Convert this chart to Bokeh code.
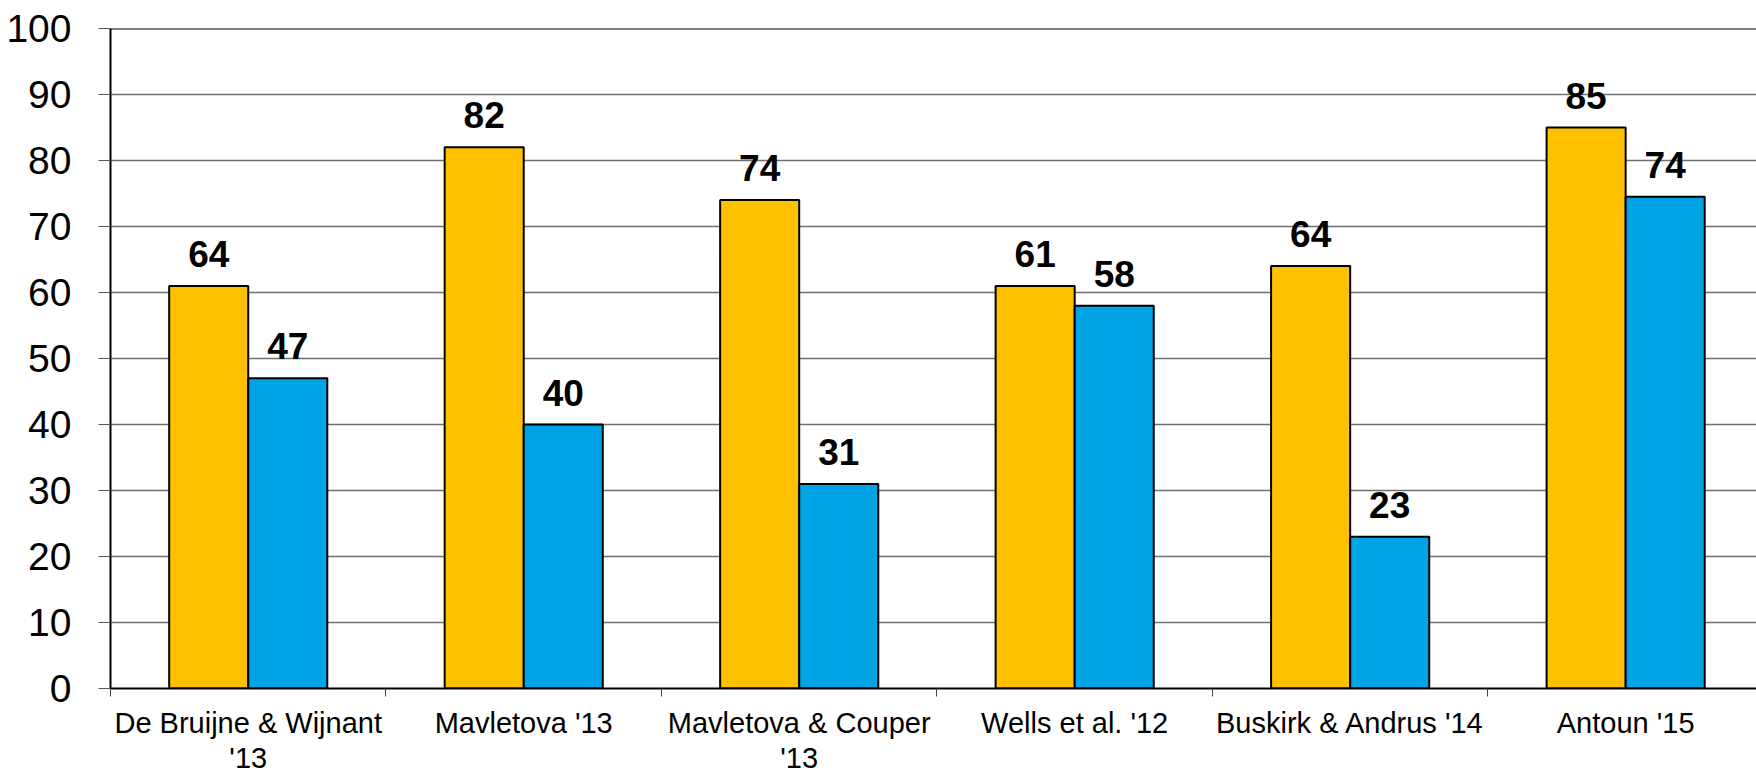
from bokeh.plotting import figure
from bokeh.models import ColumnDataSource, FixedTicker, Range1d, Span
from bokeh.core.properties import value
from bokeh.embed import file_html
from bokeh.resources import INLINE

categories = ["De Bruijne & Wijnant\n'13", "Mavletova '13", "Mavletova & Couper\n'13",
              "Wells et al. '12", "Buskirk & Andrus '14", "Antoun '15"]
orange_vals = [61, 82, 74, 61, 64, 85]
blue_vals = [47, 40, 31, 58, 23, 74.5]
orange_labels = ["64", "82", "74", "61", "64", "85"]
blue_labels = ["47", "40", "31", "58", "23", "74"]
y_ticks = [0, 10, 20, 30, 40, 50, 60, 70, 80, 90, 100]

ORANGE = "#FFC000"
BLUE = "#00A3E4"
FONT = "Liberation Sans"

n = len(categories)
bw = 0.287
centers = [i + 0.5 for i in range(n)]
ox = [c - bw / 2 for c in centers]
bx = [c + bw / 2 for c in centers]

p = figure(frame_width=1646, frame_height=660, output_backend="svg", toolbar_location=None,
           x_range=Range1d(0, 5.975), y_range=Range1d(0, 100),
           min_border_left=110, min_border_top=28, min_border_bottom=0, min_border_right=0)
p.outline_line_color = None
p.background_fill_color = "white"
p.border_fill_color = "white"

src_o = ColumnDataSource(dict(x=ox, top=orange_vals, lab=orange_labels))
src_b = ColumnDataSource(dict(x=bx, top=blue_vals, lab=blue_labels))

p.vbar(x="x", top="top", bottom=0, width=bw, source=src_o, fill_color=ORANGE,
       line_color="black", line_width=2)
p.vbar(x="x", top="top", bottom=0, width=bw, source=src_b, fill_color=BLUE,
       line_color="black", line_width=2)

for s in (src_o, src_b):
    p.text(x="x", y="top", text="lab", source=s, y_offset=-32,
           text_align="center", text_baseline="alphabetic",
           text_font=value(FONT), text_font_style="bold", text_font_size="37px",
           text_color="black")

p.add_layout(Span(location=100, dimension="width", line_color="black", line_width=2))

# y axis
p.yaxis.ticker = FixedTicker(ticks=y_ticks)
p.yaxis.axis_line_color = "black"
p.yaxis.axis_line_width = 2
p.yaxis.major_tick_out = 12
p.yaxis.major_tick_in = 0
p.yaxis.major_tick_line_color = "#555555"
p.yaxis.minor_tick_line_color = None
p.yaxis.major_label_standoff = 27
p.yaxis.major_label_text_font = FONT
p.yaxis.major_label_text_font_size = "39px"
p.yaxis.major_label_text_color = "black"

# x axis
p.xaxis.ticker = FixedTicker(ticks=centers, minor_ticks=list(range(n + 1)))
p.xaxis.major_label_overrides = {c: lab for c, lab in zip(centers, categories)}
p.xaxis.axis_line_color = "black"
p.xaxis.axis_line_width = 2
p.xaxis.major_tick_line_color = None
p.xaxis.major_tick_out = 0
p.xaxis.major_tick_in = 0
p.xaxis.minor_tick_out = 8
p.xaxis.minor_tick_in = 0
p.xaxis.minor_tick_line_color = "#444444"
p.xaxis.major_label_standoff = 10
p.xaxis.major_label_text_font = FONT
p.xaxis.major_label_text_font_size = "29px"
p.xaxis.major_label_text_line_height = 1.1
p.xaxis.major_label_text_color = "black"

p.xgrid.grid_line_color = None
p.ygrid.grid_line_color = "#707070"
p.ygrid.grid_line_width = 1.3

open("out.html", "w").write(file_html(p, INLINE))
